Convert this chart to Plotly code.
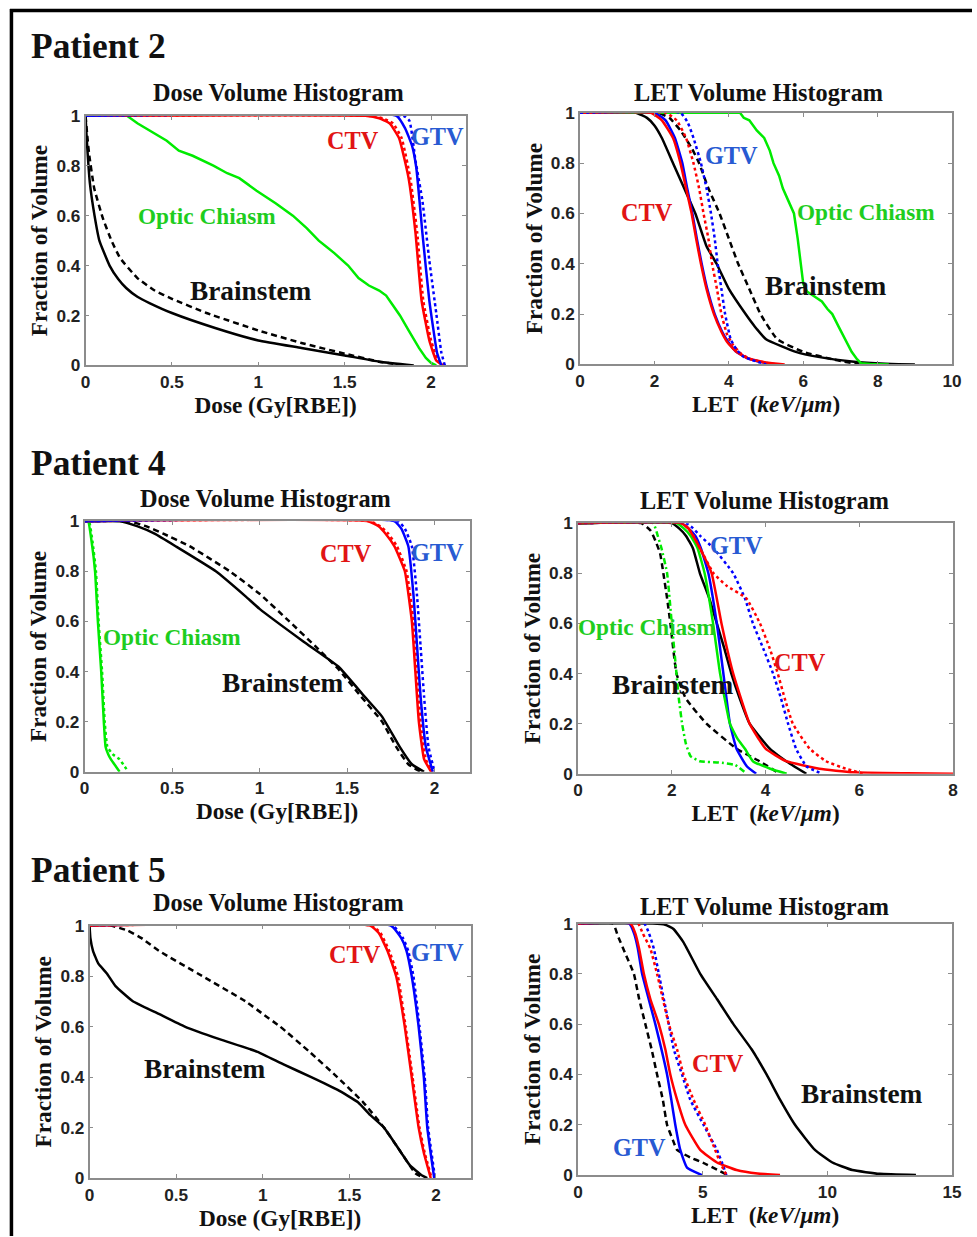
import plotly.graph_objects as go

W, H = 977, 1237
FIG_W, FIG_H = 987, 1255      # page-size compensation for the photographed frame
OFF_X, OFF_Y = -5, -9
FS = 1.012                     # font compensation for the same

# ---------------- Patient 2 : DVH ----------------
p2d_ctv_s_x = [0, 1.62, 1.70, 1.76, 1.815, 1.87, 1.91, 1.945, 1.99, 2.03, 2.07]
p2d_ctv_s_y = [1, 1, 0.99, 0.97, 0.91, 0.75, 0.53, 0.26, 0.10, 0.02, 0]
p2d_ctv_d_x = [0, 1.64, 1.72, 1.78, 1.83, 1.88, 1.92, 1.955, 2.0, 2.04, 2.08]
p2d_ctv_d_y = [1, 1, 0.99, 0.97, 0.91, 0.75, 0.53, 0.26, 0.10, 0.02, 0]
p2d_gtv_s_x = [0, 1.80, 1.85, 1.89, 1.915, 1.95, 1.99, 2.035, 2.06]
p2d_gtv_s_y = [1, 1, 0.95, 0.88, 0.79, 0.53, 0.26, 0.05, 0]
p2d_gtv_d_x = [0, 1.84, 1.875, 1.91, 1.95, 1.99, 2.03, 2.06, 2.08]
p2d_gtv_d_y = [1, 1, 0.98, 0.82, 0.66, 0.42, 0.21, 0.05, 0]
p2d_oc_x = [0, 0.24, 0.3, 0.35, 0.42, 0.47, 0.54, 0.62, 0.74, 0.82, 0.89, 0.95, 0.99, 1.1,
            1.2, 1.28, 1.35, 1.44, 1.52, 1.58, 1.64, 1.70, 1.74, 1.78, 1.82, 1.87, 1.93,
            1.97, 2.0, 2.03]
p2d_oc_y = [1, 1, 0.97, 0.95, 0.92, 0.9, 0.86, 0.84, 0.8, 0.77, 0.75, 0.72, 0.7, 0.65,
            0.6, 0.55, 0.5, 0.45, 0.4, 0.35, 0.32, 0.30, 0.28, 0.24, 0.2, 0.14, 0.07,
            0.03, 0.01, 0]
p2d_bs_s_x = [0, 0.005, 0.012, 0.025, 0.052, 0.08, 0.139, 0.19, 0.235, 0.3, 0.37, 0.5,
              0.75, 1.0, 1.25, 1.5, 1.7, 1.9]
p2d_bs_s_y = [1, 0.93, 0.85, 0.73, 0.6, 0.5, 0.4, 0.345, 0.31, 0.275, 0.25, 0.21,
              0.15, 0.10, 0.07, 0.04, 0.015, 0]
p2d_bs_d_x = [0, 0.01, 0.02, 0.05, 0.1, 0.15, 0.2, 0.3, 0.4, 0.5, 0.7, 1.0, 1.25, 1.5,
              1.7, 1.85]
p2d_bs_d_y = [1, 0.92, 0.85, 0.71, 0.59, 0.5, 0.43, 0.35, 0.3, 0.267, 0.21, 0.14, 0.09,
              0.047, 0.015, 0]

# ---------------- Patient 2 : LETVH ----------------
p2l_bs_s_x = [0, 1.5, 1.8, 2.0, 2.2, 2.5, 2.8, 3.1, 3.4, 3.67, 4.0, 4.45, 4.7, 5.0, 5.8,
              6.4, 7.3, 8.2, 9.0]
p2l_bs_s_y = [1, 1, 0.98, 0.95, 0.9, 0.8, 0.7, 0.6, 0.47, 0.4, 0.3, 0.2, 0.15, 0.1,
              0.05, 0.03, 0.012, 0.003, 0]
p2l_bs_d_x = [0, 2.1, 2.4, 2.7, 3.0, 3.2, 3.45, 3.75, 4.0, 4.25, 4.55, 4.85, 5.3, 6.0,
              6.8, 7.5]
p2l_bs_d_y = [1, 1, 0.98, 0.93, 0.86, 0.8, 0.7, 0.6, 0.5, 0.4, 0.3, 0.2, 0.1, 0.05,
              0.02, 0]
p2l_ctv_s_x = [0, 1.9, 2.2, 2.5, 2.7, 2.85, 3.0, 3.12, 3.25, 3.4, 3.6, 3.8, 3.95, 4.2,
               4.5, 5.0, 5.5]
p2l_ctv_s_y = [1, 1, 0.97, 0.9, 0.8, 0.7, 0.6, 0.5, 0.4, 0.3, 0.2, 0.13, 0.09, 0.05,
               0.025, 0.008, 0]
p2l_gtv_s_x = [0, 2.0, 2.3, 2.55, 2.75, 2.88, 3.02, 3.14, 3.27, 3.42, 3.62, 3.82, 3.98,
               4.2, 4.5, 4.9, 5.3]
p2l_gtv_s_y = [1, 1, 0.97, 0.9, 0.8, 0.7, 0.6, 0.5, 0.4, 0.3, 0.2, 0.13, 0.09, 0.05,
               0.025, 0.008, 0]
p2l_ctv_d_x = [0, 2.3, 2.6, 2.85, 3.05, 3.2, 3.32, 3.45, 3.55, 3.68, 3.8, 3.95, 4.1, 4.35,
               4.6, 5.2]
p2l_ctv_d_y = [1, 1, 0.97, 0.9, 0.8, 0.7, 0.6, 0.5, 0.4, 0.3, 0.2, 0.12, 0.08, 0.04,
               0.02, 0]
p2l_gtv_d_x = [0, 2.7, 2.9, 3.05, 3.25, 3.4, 3.52, 3.62, 3.7, 3.8, 3.9, 4.05, 4.2, 4.4, 5.0]
p2l_gtv_d_y = [1, 1, 0.96, 0.9, 0.8, 0.7, 0.6, 0.5, 0.4, 0.3, 0.2, 0.1, 0.06, 0.03, 0]
p2l_oc_x = [0, 4.3, 4.4, 4.55, 4.75, 4.95, 5.1, 5.2, 5.35, 5.45, 5.6, 5.75, 5.85, 5.93,
            6.0, 6.1, 6.3, 6.5, 6.65, 6.78, 6.95, 7.13, 7.3, 7.45, 7.55, 7.8, 8.3]
p2l_oc_y = [1, 1, 0.98, 0.97, 0.93, 0.9, 0.85, 0.8, 0.75, 0.7, 0.65, 0.6, 0.5, 0.4,
            0.32, 0.29, 0.27, 0.25, 0.22, 0.2, 0.15, 0.1, 0.05, 0.02, 0.005, 0.002, 0]

# ---------------- Patient 4 : DVH ----------------
p4d_ctv_s_x = [0, 1.62, 1.68, 1.72, 1.77, 1.83, 1.87, 1.89, 1.91, 1.94, 1.98]
p4d_ctv_s_y = [1, 1, 0.98, 0.95, 0.9, 0.8, 0.6, 0.4, 0.2, 0.05, 0]
p4d_ctv_d_x = [0, 1.63, 1.69, 1.735, 1.785, 1.84, 1.88, 1.9, 1.92, 1.95, 1.985]
p4d_ctv_d_y = [1, 1, 0.98, 0.95, 0.9, 0.8, 0.6, 0.4, 0.2, 0.05, 0]
p4d_gtv_s_x = [0, 1.77, 1.81, 1.85, 1.88, 1.9, 1.92, 1.95, 1.99]
p4d_gtv_s_y = [1, 1, 0.97, 0.9, 0.7, 0.5, 0.3, 0.1, 0]
p4d_gtv_d_x = [0, 1.79, 1.83, 1.87, 1.9, 1.92, 1.94, 1.965, 2.0]
p4d_gtv_d_y = [1, 1, 0.97, 0.9, 0.7, 0.5, 0.3, 0.1, 0]
p4d_oc_s_x = [0, 0.02, 0.04, 0.06, 0.076, 0.095, 0.11, 0.12, 0.135, 0.15, 0.18, 0.2]
p4d_oc_s_y = [1, 1, 0.92, 0.8, 0.6, 0.4, 0.2, 0.1, 0.07, 0.05, 0.02, 0]
p4d_oc_d_x = [0, 0.025, 0.045, 0.065, 0.08, 0.1, 0.115, 0.13, 0.16, 0.2, 0.23, 0.25]
p4d_oc_d_y = [1, 1, 0.92, 0.8, 0.6, 0.4, 0.2, 0.1, 0.07, 0.05, 0.02, 0]
p4d_bs_s_x = [0, 0.2, 0.3, 0.4, 0.52, 0.75, 0.92, 1.0, 1.25, 1.45, 1.6, 1.7, 1.8, 1.87, 1.94]
p4d_bs_s_y = [1, 1, 0.98, 0.95, 0.9, 0.8, 0.7, 0.65, 0.52, 0.42, 0.3, 0.22, 0.1, 0.03, 0]
p4d_bs_d_x = [0, 0.25, 0.35, 0.45, 0.6, 0.83, 1.0, 1.17, 1.32, 1.45, 1.58, 1.7, 1.78, 1.85, 1.92]
p4d_bs_d_y = [1, 1, 0.98, 0.95, 0.9, 0.8, 0.71, 0.6, 0.5, 0.41, 0.3, 0.2, 0.1, 0.03, 0]

# ---------------- Patient 4 : LETVH ----------------
p4l_oc_d_x = [0, 1.6, 1.7, 1.78, 1.9, 2.0, 2.1, 2.15, 2.22, 2.3, 2.4, 2.6, 3.0, 3.35, 3.6]
p4l_oc_d_y = [1, 1, 0.95, 0.9, 0.8, 0.6, 0.4, 0.3, 0.2, 0.12, 0.07, 0.05, 0.045, 0.035, 0]
p4l_bs_d_x = [0, 1.35, 1.55, 1.65, 1.75, 1.82, 1.9, 1.97, 2.1, 2.3, 2.74, 3.38, 3.87, 4.3]
p4l_bs_d_y = [1, 1, 0.97, 0.93, 0.88, 0.8, 0.7, 0.6, 0.4, 0.3, 0.2, 0.1, 0.05, 0]
p4l_bs_s_x = [0, 2.0, 2.15, 2.3, 2.45, 2.6, 2.8, 2.96, 3.12, 3.27, 3.45, 3.66, 4.09, 4.44, 4.87]
p4l_bs_s_y = [1, 1, 0.98, 0.95, 0.9, 0.8, 0.7, 0.6, 0.5, 0.4, 0.3, 0.2, 0.1, 0.05, 0]
p4l_oc_s_x = [0, 2.1, 2.25, 2.4, 2.55, 2.7, 2.88, 3.03, 3.24, 3.4, 3.56, 3.73, 4.1, 4.45]
p4l_oc_s_y = [1, 1, 0.98, 0.95, 0.9, 0.8, 0.6, 0.4, 0.2, 0.14, 0.1, 0.05, 0.02, 0]
p4l_gtv_s_x = [0, 2.2, 2.35, 2.5, 2.62, 2.78, 2.96, 3.1, 3.24, 3.38, 3.6, 3.8]
p4l_gtv_s_y = [1, 1, 0.98, 0.95, 0.9, 0.8, 0.6, 0.4, 0.2, 0.1, 0.03, 0]
p4l_ctv_s_x = [0, 2.2, 2.35, 2.45, 2.6, 2.85, 3.06, 3.31, 3.66, 4.0, 4.44, 5.15, 5.86, 7.0, 8.0]
p4l_ctv_s_y = [1, 1, 0.98, 0.95, 0.9, 0.8, 0.6, 0.4, 0.2, 0.1, 0.05, 0.02, 0.006, 0.002, 0]
p4l_gtv_d_x = [0, 2.3, 2.45, 2.6, 2.89, 3.31, 3.56, 3.73, 3.95, 4.16, 4.33, 4.48, 4.65, 4.87, 5.2]
p4l_gtv_d_y = [1, 1, 0.98, 0.95, 0.9, 0.8, 0.7, 0.6, 0.5, 0.4, 0.3, 0.2, 0.1, 0.03, 0]
p4l_ctv_d_x = [0, 2.2, 2.35, 2.46, 2.6, 2.89, 3.17, 3.59, 3.88, 4.09, 4.26, 4.41, 4.58,
               4.94, 5.29, 5.71, 6.1]
p4l_ctv_d_y = [1, 1, 0.98, 0.95, 0.9, 0.8, 0.75, 0.7, 0.6, 0.5, 0.4, 0.3, 0.2, 0.1,
               0.05, 0.02, 0]

# ---------------- Patient 5 : DVH ----------------
p5d_ctv_s_x = [0, 1.62, 1.67, 1.72, 1.77, 1.82, 1.86, 1.9, 1.93, 1.97]
p5d_ctv_s_y = [1, 1, 0.97, 0.9, 0.8, 0.6, 0.4, 0.2, 0.1, 0]
p5d_ctv_d_x = [0, 1.63, 1.68, 1.73, 1.78, 1.825, 1.865, 1.905, 1.935, 1.975]
p5d_ctv_d_y = [1, 1, 0.97, 0.9, 0.8, 0.6, 0.4, 0.2, 0.1, 0]
p5d_gtv_s_x = [0, 1.74, 1.8, 1.83, 1.86, 1.9, 1.93, 1.95, 1.99]
p5d_gtv_s_y = [1, 1, 0.95, 0.9, 0.8, 0.6, 0.4, 0.2, 0]
p5d_gtv_d_x = [0, 1.75, 1.81, 1.84, 1.87, 1.905, 1.935, 1.955, 1.995]
p5d_gtv_d_y = [1, 1, 0.95, 0.9, 0.8, 0.6, 0.4, 0.2, 0]
p5d_bs_s_x = [0, 0.005, 0.02, 0.05, 0.1, 0.15, 0.25, 0.4, 0.55, 0.75, 0.97, 1.12, 1.28,
              1.43, 1.55, 1.62, 1.7, 1.8, 1.85, 1.92, 1.95]
p5d_bs_s_y = [1, 0.95, 0.9, 0.85, 0.81, 0.76, 0.7, 0.65, 0.6, 0.55, 0.5, 0.45, 0.4,
              0.35, 0.3, 0.25, 0.2, 0.1, 0.05, 0.01, 0]
p5d_bs_d_x = [0, 0.12, 0.22, 0.3, 0.4, 0.65, 0.9, 1.0, 1.1, 1.27, 1.43, 1.58, 1.7, 1.8,
              1.88, 1.93]
p5d_bs_d_y = [1, 1, 0.98, 0.95, 0.9, 0.8, 0.7, 0.65, 0.6, 0.5, 0.4, 0.3, 0.2, 0.1, 0.02, 0]

# ---------------- Patient 5 : LETVH ----------------
p5l_bs_d_x = [0, 1.4, 1.6, 1.9, 2.24, 2.45, 2.7, 2.95, 3.17, 3.4, 3.57, 3.8, 3.97, 4.5, 5.0, 6.0]
p5l_bs_d_y = [1, 1, 0.95, 0.88, 0.8, 0.7, 0.6, 0.5, 0.4, 0.3, 0.2, 0.14, 0.1, 0.07, 0.05, 0]
p5l_ctv_s_x = [0, 2.1, 2.3, 2.45, 2.64, 2.9, 3.24, 3.5, 3.7, 3.97, 4.3, 4.9, 5.57, 6.36, 7.2, 8.1]
p5l_ctv_s_y = [1, 1, 0.96, 0.9, 0.8, 0.7, 0.6, 0.5, 0.4, 0.3, 0.2, 0.1, 0.05, 0.02, 0.006, 0]
p5l_gtv_s_x = [0, 2.05, 2.25, 2.4, 2.57, 3.1, 3.57, 3.74, 3.9, 4.1, 4.37, 4.97]
p5l_gtv_s_y = [1, 1, 0.96, 0.9, 0.8, 0.6, 0.4, 0.3, 0.2, 0.1, 0.03, 0]
p5l_ctv_d_x = [0, 2.4, 2.6, 2.9, 3.17, 3.64, 3.97, 4.23, 4.63, 5.1, 5.5, 5.7, 5.95]
p5l_ctv_d_y = [1, 1, 0.96, 0.9, 0.8, 0.6, 0.5, 0.4, 0.3, 0.2, 0.1, 0.05, 0]
p5l_gtv_d_x = [0, 2.65, 2.85, 3.04, 3.24, 3.64, 3.84, 4.17, 4.5, 5.03, 5.57, 5.77, 5.95]
p5l_gtv_d_y = [1, 1, 0.96, 0.9, 0.8, 0.6, 0.5, 0.4, 0.3, 0.2, 0.1, 0.05, 0]
p5l_bs_s_x = [0, 3.0, 3.5, 3.83, 4.23, 4.9, 5.57, 6.23, 6.96, 7.56, 8.1, 8.7, 9.5, 10.2,
              11.0, 12.1, 13.55]
p5l_bs_s_y = [1, 1, 0.995, 0.978, 0.925, 0.8, 0.7, 0.6, 0.5, 0.4, 0.3, 0.2, 0.1, 0.05,
              0.02, 0.005, 0]

# tick labels
dose_ticks = [0, 0.5, 1, 1.5, 2]
dose_ticktext = ["0", "0.5", "1", "1.5", "2"]
frac_ticks = [0, 0.2, 0.4, 0.6, 0.8, 1]
frac_ticktext = ["0", "0.2", "0.4", "0.6", "0.8", "1"]
let_ticks_p2 = [0, 2, 4, 6, 8, 10]
let_ticks_p4 = [0, 2, 4, 6, 8]
let_ticks_p5 = [0, 5, 10, 15]

RED = "rgb(255,0,0)"
BLUE = "rgb(0,0,255)"
GREEN = "rgb(0,235,0)"
BLACK = "rgb(0,0,0)"
LBL_RED = "rgb(225,20,20)"
LBL_BLUE = "rgb(40,90,210)"
LBL_GREEN = "rgb(30,205,30)"

SERIF = "Liberation Serif"
SANS = "Liberation Sans"

fig = go.Figure()

def px_x(p):
    return p / W

def px_y(p):
    return 1 - p / H

# panel geometry in pixels: (left, right, top, bottom)
panels = [
    (86, 468, 115, 365),
    (583, 957, 112, 364),
    (85, 472, 521, 772),
    (581, 958, 523, 774),
    (90, 473, 926, 1179),
    (581, 957, 924, 1176),
]
xranges = [[0, 2.2], [0, 10], [0, 2.2], [0, 8], [0, 2.2], [0, 15]]
xticks = [dose_ticks, let_ticks_p2, dose_ticks, let_ticks_p4, dose_ticks, let_ticks_p5]
xticktexts = [dose_ticktext, [str(v) for v in let_ticks_p2], dose_ticktext,
              [str(v) for v in let_ticks_p4], dose_ticktext, [str(v) for v in let_ticks_p5]]
xtitles = ["Dose (Gy[RBE])", "LET  (<i>keV</i>/<i>μm</i>)"] * 3

def add(i, x, y, color, dash=None, width=2.5, shape="spline"):
    ax = "" if i == 0 else str(i + 1)
    line = dict(color=color, width=width, dash=dash, shape=shape)
    if shape == "spline":
        line["smoothing"] = 0.4
    fig.add_trace(go.Scatter(
        x=x, y=y, mode="lines", xaxis="x" + ax, yaxis="y" + ax,
        line=line, showlegend=False, hoverinfo="skip"))

DASH_K = "6px,4px"
DASH_C = "3px,3px"

# panel 0 : P2 DVH
add(0, p2d_bs_d_x, p2d_bs_d_y, BLACK, DASH_K)
add(0, p2d_bs_s_x, p2d_bs_s_y, BLACK)
add(0, p2d_oc_x, p2d_oc_y, GREEN, shape="linear")
add(0, p2d_ctv_s_x, p2d_ctv_s_y, RED)
add(0, p2d_ctv_d_x, p2d_ctv_d_y, RED, DASH_C)
add(0, p2d_gtv_s_x, p2d_gtv_s_y, BLUE)
add(0, p2d_gtv_d_x, p2d_gtv_d_y, BLUE, DASH_C)

# panel 1 : P2 LET
add(1, p2l_bs_d_x, p2l_bs_d_y, BLACK, DASH_K)
add(1, p2l_bs_s_x, p2l_bs_s_y, BLACK)
add(1, p2l_oc_x, p2l_oc_y, GREEN, shape="linear")
add(1, p2l_gtv_s_x, p2l_gtv_s_y, BLUE)
add(1, p2l_ctv_s_x, p2l_ctv_s_y, RED)
add(1, p2l_ctv_d_x, p2l_ctv_d_y, RED, DASH_C)
add(1, p2l_gtv_d_x, p2l_gtv_d_y, BLUE, DASH_C)

# panel 2 : P4 DVH
add(2, p4d_bs_d_x, p4d_bs_d_y, BLACK, DASH_K)
add(2, p4d_bs_s_x, p4d_bs_s_y, BLACK)
add(2, p4d_oc_d_x, p4d_oc_d_y, GREEN, DASH_C)
add(2, p4d_oc_s_x, p4d_oc_s_y, GREEN)
add(2, p4d_ctv_d_x, p4d_ctv_d_y, RED, DASH_C)
add(2, p4d_ctv_s_x, p4d_ctv_s_y, RED)
add(2, p4d_gtv_s_x, p4d_gtv_s_y, BLUE)
add(2, p4d_gtv_d_x, p4d_gtv_d_y, BLUE, DASH_C)

# panel 3 : P4 LET
add(3, p4l_bs_d_x, p4l_bs_d_y, BLACK, DASH_K)
add(3, p4l_oc_d_x, p4l_oc_d_y, GREEN, "6px,3px,2px,3px")
add(3, p4l_bs_s_x, p4l_bs_s_y, BLACK)
add(3, p4l_gtv_s_x, p4l_gtv_s_y, BLUE)
add(3, p4l_oc_s_x, p4l_oc_s_y, GREEN)
add(3, p4l_ctv_s_x, p4l_ctv_s_y, RED)
add(3, p4l_gtv_d_x, p4l_gtv_d_y, BLUE, DASH_C)
add(3, p4l_ctv_d_x, p4l_ctv_d_y, RED, DASH_C)

# panel 4 : P5 DVH
add(4, p5d_bs_d_x, p5d_bs_d_y, BLACK, DASH_K)
add(4, p5d_bs_s_x, p5d_bs_s_y, BLACK)
add(4, p5d_gtv_s_x, p5d_gtv_s_y, BLUE)
add(4, p5d_gtv_d_x, p5d_gtv_d_y, BLUE, DASH_C)
add(4, p5d_ctv_s_x, p5d_ctv_s_y, RED)
add(4, p5d_ctv_d_x, p5d_ctv_d_y, RED, DASH_C)

# panel 5 : P5 LET
add(5, p5l_bs_d_x, p5l_bs_d_y, BLACK, DASH_K)
add(5, p5l_bs_s_x, p5l_bs_s_y, BLACK)
add(5, p5l_gtv_s_x, p5l_gtv_s_y, BLUE)
add(5, p5l_ctv_s_x, p5l_ctv_s_y, RED)
add(5, p5l_gtv_d_x, p5l_gtv_d_y, BLUE, DASH_C)
add(5, p5l_ctv_d_x, p5l_ctv_d_y, RED, DASH_C)

layout = dict(
    width=FIG_W, height=FIG_H, margin=dict(l=0, r=0, t=0, b=0),
    paper_bgcolor="white", plot_bgcolor="white", showlegend=False,
)

tickfont = dict(family=SANS, size=17 * FS, color="#222", weight="bold")
titlefont = dict(family=SERIF, size=23 * FS, color="#111", weight="bold")

for i, (l, r, t, b) in enumerate(panels):
    ax = "" if i == 0 else str(i + 1)
    layout["xaxis" + ax] = dict(
        domain=[px_x(l), px_x(r)], anchor="y" + ax, range=xranges[i],
        tickvals=xticks[i], ticktext=xticktexts[i], tickfont=tickfont,
        showgrid=False, zeroline=False, showline=True, mirror="ticks",
        linecolor="#8c8c8c", linewidth=1.6, ticks="inside", ticklen=4,
        tickcolor="#8c8c8c", tickwidth=1.2,
        title=dict(text=xtitles[i], font=titlefont, standoff=0),
    )
    layout["yaxis" + ax] = dict(
        domain=[px_y(b), px_y(t)], anchor="x" + ax, range=[0, 1],
        tickvals=frac_ticks, ticktext=frac_ticktext, tickfont=tickfont,
        showgrid=False, zeroline=False, showline=True, mirror="ticks",
        linecolor="#8c8c8c", linewidth=1.6, ticks="inside", ticklen=4,
        tickcolor="#8c8c8c", tickwidth=1.2,
        title=dict(text="Fraction of Volume", font=titlefont, standoff=2),
    )

annotations = []

# patient headings
for txt, y in [("Patient 2", 45), ("Patient 4", 463), ("Patient 5", 870)]:
    annotations.append(dict(text=txt, x=px_x(29), y=px_y(y), xref="paper", yref="paper",
                            xanchor="left", yanchor="middle", showarrow=False,
                            font=dict(family=SERIF, size=35 * FS, color="#111", weight="bold")))

# panel titles
for txt, x, y in [("Dose Volume Histogram", 280, 92), ("LET Volume Histogram", 762, 92),
                  ("Dose Volume Histogram", 267, 498), ("LET Volume Histogram", 768, 500),
                  ("Dose Volume Histogram", 280, 903), ("LET Volume Histogram", 768, 907)]:
    annotations.append(dict(text=txt, x=px_x(x), y=px_y(y), xref="paper", yref="paper",
                            xanchor="center", yanchor="middle", showarrow=False,
                            font=dict(family=SERIF, size=24 * FS, color="#111", weight="bold")))

# curve labels (text, x px, y px, color, size)
labels = [
    ("CTV", 355, 140, LBL_RED, 24), ("GTV", 440, 136, LBL_BLUE, 24),
    ("Optic Chiasm", 208, 215, LBL_GREEN, 23), ("Brainstem", 252, 290, "#111", 27),
    ("GTV", 735, 155, LBL_BLUE, 24), ("CTV", 650, 212, LBL_RED, 24),
    ("Optic Chiasm", 870, 211, LBL_GREEN, 23), ("Brainstem", 830, 285, "#111", 27),
    ("CTV", 348, 553, LBL_RED, 24), ("GTV", 440, 552, LBL_BLUE, 24),
    ("Optic Chiasm", 173, 637, LBL_GREEN, 23), ("Brainstem", 284, 683, "#111", 27),
    ("GTV", 740, 545, LBL_BLUE, 24), ("Optic Chiasm", 650, 627, LBL_GREEN, 23),
    ("CTV", 804, 663, LBL_RED, 24), ("Brainstem", 676, 685, "#111", 27),
    ("CTV", 357, 955, LBL_RED, 24), ("GTV", 440, 953, LBL_BLUE, 24),
    ("Brainstem", 206, 1070, "#111", 27),
    ("CTV", 722, 1064, LBL_RED, 24), ("Brainstem", 866, 1095, "#111", 27),
    ("GTV", 643, 1148, LBL_BLUE, 24),
]
for txt, x, y, c, s in labels:
    annotations.append(dict(text=txt, x=px_x(x), y=px_y(y), xref="paper", yref="paper",
                            xanchor="center", yanchor="middle", showarrow=False,
                            font=dict(family=SERIF, size=s * FS, color=c, weight="bold")))

layout["annotations"] = annotations

# outer frame (top and left edges)
layout["shapes"] = [
    dict(type="line", xref="paper", yref="paper", x0=px_x(10), x1=1.0,
         y0=px_y(9.5), y1=px_y(9.5), line=dict(color="black", width=3.5)),
    dict(type="line", xref="paper", yref="paper", x0=px_x(11.5), x1=px_x(11.5),
         y0=0, y1=px_y(8), line=dict(color="black", width=3.5)),
]

fig.update_layout(**layout)

POST = """
document.documentElement.style.margin='0';
document.documentElement.style.overflow='hidden';
document.body.style.margin='0';
document.body.style.overflow='hidden';
var gd = document.getElementById('{plot_id}');
gd.style.position='fixed';
gd.style.left='%dpx';
gd.style.top='%dpx';
""" % (OFF_X, OFF_Y)

fig.write_html("out.html", config={"displayModeBar": False}, post_script=POST)
